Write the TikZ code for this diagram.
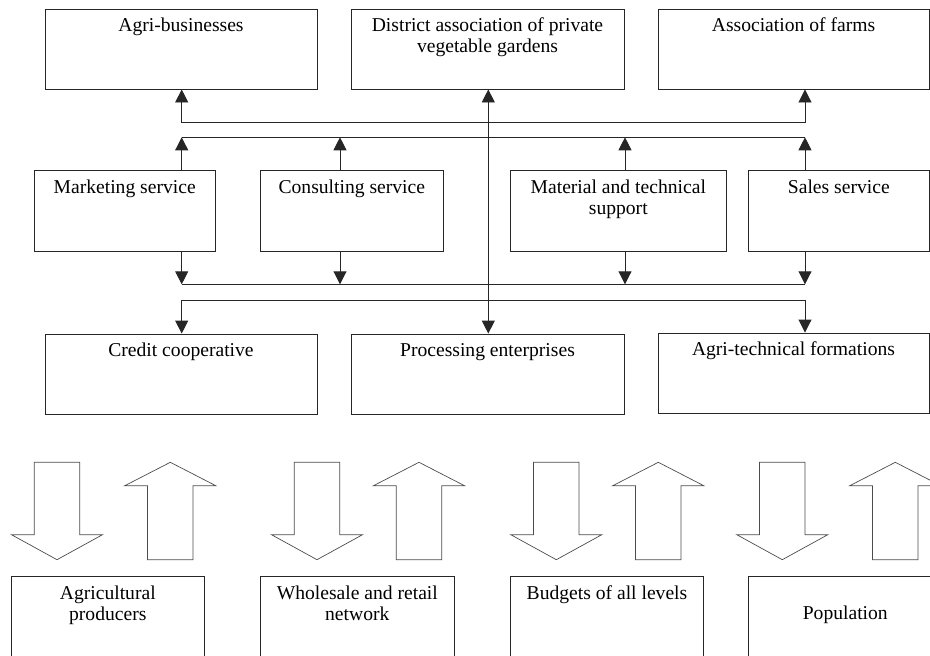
\documentclass[tikz,border=0pt]{standalone}
\usepackage{fontspec}
\setmainfont{Liberation Serif}
\usetikzlibrary{arrows.meta}

\tikzset{
  box/.style={draw=black!85, line width=0.9pt, inner sep=0pt},
  lbl/.style={anchor=base, align=center, inner sep=0pt, font=\fontsize{19.6}{21}\selectfont},
  link/.style={draw=black!85, line width=0.9pt},
  onehead/.style={link, -{Triangle[length=13pt,width=13pt]}},
  twohead/.style={link, {Triangle[length=13pt,width=13pt]}-{Triangle[length=13pt,width=13pt]}},
  fat/.style={draw=black!70, line width=0.7pt},
}

\begin{document}
\begin{tikzpicture}[x=1pt,y=-1pt]
    \useasboundingbox (0,0) rectangle (930,656);
    \clip (0,0) rectangle (930,656);
    % top row
    \node[box, minimum width=272, minimum height=80] (agri) at (181,49) {};
    \node[box, minimum width=273, minimum height=80] (district) at (487.5,49) {};
    \node[box, minimum width=271, minimum height=80] (farms) at (793.5,49) {};
    \node[lbl] (agritext) at ([yshift=-23pt]agri.north) {Agri-businesses};
    \node[lbl] (districttext) at ([yshift=-44pt]district.north) {District association of private\\vegetable gardens};
    \node[lbl] (farmstext) at ([yshift=-23pt]farms.north) {Association of farms};
    % services
    \node[box, minimum width=181, minimum height=81] (mkt) at (124.7,211) {};
    \node[box, minimum width=183, minimum height=81] (cons) at (351.8,211) {};
    \node[box, minimum width=216, minimum height=81] (mat) at (618.3,211) {};
    \node[box, minimum width=181, minimum height=81] (sales) at (838.8,211) {};
    \node[lbl] (mkttext) at ([yshift=-23pt]mkt.north) {Marketing service};
    \node[lbl] (constext) at ([yshift=-23pt]cons.north) {Consulting service};
    \node[lbl] (mattext) at ([yshift=-44pt]mat.north) {Material and technical\\support};
    \node[lbl] (salestext) at ([yshift=-23pt]sales.north) {Sales service};
    % third row
    \node[box, minimum width=272, minimum height=80] (credit) at (181,374) {};
    \node[box, minimum width=273, minimum height=80] (proc) at (487.5,374) {};
    \node[box, minimum width=271, minimum height=80] (agritech) at (793.5,373) {};
    \node[lbl] (credittext) at ([yshift=-23pt]credit.north) {Credit cooperative};
    \node[lbl] (proctext) at ([yshift=-23pt]proc.north) {Processing enterprises};
    \node[lbl] (agritechtext) at ([yshift=-23pt]agritech.north) {Agri-technical formations};
    % bottom row
    \node[box, minimum width=193, minimum height=100] (producers) at (107.8,626.7) {};
    \node[box, minimum width=194, minimum height=100] (wholesale) at (357.3,626.7) {};
    \node[box, minimum width=193, minimum height=100] (budgets) at (607,626.7) {};
    \node[box, minimum width=194, minimum height=100] (population) at (845.3,626.7) {};
    \node[lbl] (producerstext) at ([yshift=-44pt]producers.north) {Agricultural\\producers};
    \node[lbl] (wholesaletext) at ([yshift=-44pt]wholesale.north) {Wholesale and retail\\network};
    \node[lbl] (budgetstext) at ([yshift=-23pt]budgets.north) {Budgets of all levels};
    \node[lbl] (populationtext) at ([yshift=-43pt]population.north) {Population};
    % columns and buses
    \coordinate (colA) at (181.7,0);
    \coordinate (colB) at (340,0);
    \coordinate (colC) at (625,0);
    \coordinate (colD) at (805,0);
    \coordinate (colM) at (488.3,0);
    \coordinate (bus1) at (0,122.3);
    \coordinate (bus2) at (0,137.3);
    \coordinate (bus3) at (0,284.3);
    \coordinate (bus4) at (0,300.7);
    \draw[twohead] (agri.south -| colA) -- (colA |- bus1) -- (colD |- bus1) -- (farms.south -| colD);
    \draw[link] (colA |- bus2) -- (colD |- bus2);
    \draw[link] (colA |- bus3) -- (colD |- bus3);
    \foreach \n/\c in {mkt/colA, cons/colB, mat/colC, sales/colD} {
        \draw[onehead] (\n.north -| \c) -- (\c |- bus2);
        \draw[onehead] (\n.south -| \c) -- (\c |- bus3);
    }
    \draw[twohead] (credit.north -| colA) -- (colA |- bus4) -- (colD |- bus4) -- (agritech.north -| colD);
    \draw[twohead] (district.south -| colM) -- (proc.north -| colM);
    % block arrows
    \foreach \c in {57,317,556.3,782.3}
        \draw[fat] (\c-22.75,462.3) -- (\c+22.75,462.3) -- (\c+22.75,534.7) -- (\c+45.5,534.7)
            -- (\c,559.7) -- (\c-45.5,534.7) -- (\c-22.75,534.7) -- cycle;
    \foreach \c in {170.3,419,658.3,895.3}
        \draw[fat] (\c,462.3) -- (\c+45.5,485.7) -- (\c+22.75,485.7) -- (\c+22.75,559.7)
            -- (\c-22.75,559.7) -- (\c-22.75,485.7) -- (\c-45.5,485.7) -- cycle;
\end{tikzpicture}
\end{document}
